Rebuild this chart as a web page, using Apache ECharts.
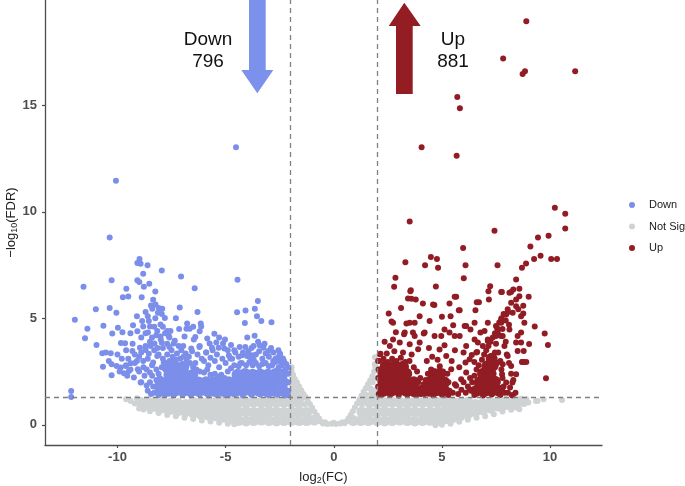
<!DOCTYPE html>
<html>
<head>
    <meta charset="utf-8" />
    <title>Volcano plot</title>
    <script src="https://cdn.jsdelivr.net/npm/echarts@6/dist/echarts.min.js"></script>
    <style>
        html, body { margin: 0; padding: 0; background: #fff; }
        #chart { width: 685px; height: 486px; }
    </style>
</head>
<body>
    <div id="chart"></div>
    <script>
        // tick labels
        var xTicks = [-10, -5, 0, 5, 10];
        var yTicks = [0, 5, 10, 15];
        // thresholds: |log2FC| > 2, FDR < 0.05
        var fcCut = 2;
        var fdrCut = 1.3;
        var downCount = 796;
        var upCount = 881;

        // not significant, dense body of the cloud (drawn with larger dots)
        var greyCore = [
            [-4.4,0.2],[-4.05,0.18],[-3.7,0.2],[-3.35,0.22],[-3.0,0.2],[-2.65,0.18],[-2.3,0.2],[-1.95,0.21],
            [-4.4,0.6],[-4.05,0.62],[-3.7,0.58],[-3.35,0.6],[-3.0,0.62],[-2.65,0.6],[-2.3,0.58],[-1.95,0.6],
            [-4.4,1.05],[-4.05,1.04],[-3.7,1.06],[-3.35,1.05],[-3.0,1.04],[-2.65,1.06],[-2.3,1.05],[-1.95,1.05],
            [-1.6,0.2],[-1.25,0.2],[-0.9,0.22],[-1.6,0.62],[-1.25,0.58],[-1.65,1.05],[-1.85,1.5],
            [2.0,0.2],[2.35,0.18],[2.7,0.2],[3.05,0.22],[3.4,0.2],[3.75,0.18],[4.1,0.2],[4.45,0.21],
            [2.0,0.6],[2.35,0.62],[2.7,0.58],[3.05,0.6],[3.4,0.62],[3.75,0.6],[4.1,0.58],[4.45,0.6],
            [2.0,1.05],[2.35,1.04],[2.7,1.06],[3.05,1.05],[3.4,1.04],[3.75,1.06],[4.1,1.05],[4.45,1.05],
            [0.9,0.2],[1.25,0.2],[1.6,0.2],[1.3,0.6],[1.65,0.6],[1.65,1.05],[1.85,1.5],
            [-4.75,0.3],[-4.75,0.7],[-4.75,1.05],[-5.1,0.35],[-5.1,0.7],[-5.1,1.05],
            [-5.45,0.42],[-5.45,0.75],[-5.45,1.05],[-5.8,0.45],[-5.8,0.78],[-5.8,1.05],
            [-6.15,0.5],[-6.15,0.8],[-6.15,1.05],[-6.5,0.56],[-6.5,0.85],[-6.5,1.06],
            [-6.85,0.62],[-6.85,0.95],[-7.2,0.66],[-7.2,1.0],[-7.55,0.72],[-7.55,1.02],
            [-7.9,0.8],[-7.9,1.05],[-8.25,0.86],[-8.25,1.06],[-8.6,0.93],[-8.6,1.08],[-8.95,1.06],
            [4.8,0.22],[4.8,0.6],[4.8,1.05],[5.15,0.28],[5.15,0.65],[5.15,1.05],
            [5.5,0.34],[5.5,0.7],[5.5,1.05],[5.85,0.43],[5.85,0.78],[5.85,1.05],
            [6.2,0.52],[6.2,0.85],[6.2,1.06],[6.55,0.62],[6.55,0.95],[6.9,0.7],[6.9,1.0],
            [7.25,0.78],[7.25,1.05],[7.6,0.88],[7.6,1.06],[7.95,0.95],[7.95,1.08],[8.3,1.02],[8.65,1.1]
        ];
        // not significant, edges and stragglers
        var greyPts = [
            [-0.5,0.06],[-0.3,0.04],[-0.1,0.05],[0.1,0.04],[0.3,0.06],[0.5,0.07],[-0.4,0.12],[0.0,0.1],
            [0.4,0.12],[-0.6,0.15],[0.6,0.16],
            [-0.68,0.3],[-0.78,0.45],[-0.9,0.62],[-1.0,0.8],[-1.1,0.96],[-1.2,1.12],[-1.3,1.3],[-1.4,1.45],
            [-1.5,1.62],[-1.6,1.8],[-1.7,1.98],[-1.8,2.15],[-1.88,2.35],[-1.95,2.55],[-1.92,2.1],[-1.87,1.8],
            [-1.95,1.9],[-1.75,1.7],[-1.55,1.35],[-1.45,1.25],[-1.35,0.95],[-1.95,2.7],
            [0.68,0.3],[0.78,0.46],[0.88,0.64],[0.98,0.82],[1.08,1.0],[1.18,1.18],[1.28,1.36],[1.38,1.55],
            [1.48,1.72],[1.58,1.9],[1.68,2.08],[1.78,2.28],[1.86,2.5],[1.92,2.72],[1.9,2.84],[1.9,3.17],
            [1.8,2.0],[1.7,1.7],[1.9,2.2],[1.5,1.4],[1.4,1.2],[1.3,0.95],
            [-4.6,0.02],[-4.9,0.05],[-5.3,0.1],[-5.7,0.15],[-6.1,0.2],[-6.5,0.27],[-6.9,0.33],[-7.3,0.4],
            [-7.7,0.46],[-8.1,0.55],[-8.5,0.63],[-8.8,0.72],[-9.0,0.77],[-9.39,1.12],[-8.7,1.02],[-9.2,1.0],
            [-9.6,1.2],[-9.1,1.25],
            [4.7,-0.02],[5.0,0.0],[5.4,0.05],[5.8,0.14],[6.2,0.24],[6.6,0.33],[7.0,0.4],[7.4,0.5],
            [7.8,0.62],[8.2,0.7],[8.43,0.81],[8.58,0.73],[8.81,0.97],[9.0,1.05],[9.35,1.12],[9.42,1.12],
            [9.7,1.2],[10.55,1.16],[8.9,1.2],[8.1,1.05],[7.6,0.8]
        ];

        // down-regulated, solid part of the cluster (drawn with larger dots)
        var downCore = [
            [-8.0,1.6],[-7.65,1.6],[-7.3,1.62],[-6.95,1.6],[-6.6,1.58],[-6.25,1.6],[-5.9,1.62],[-5.55,1.6],
            [-5.2,1.6],[-4.85,1.58],[-4.5,1.6],[-4.15,1.62],[-3.8,1.6],[-3.45,1.6],[-3.1,1.58],[-2.75,1.6],[-2.35,1.6],
            [-7.65,2.0],[-7.3,2.0],[-6.95,2.02],[-6.6,2.0],[-6.25,1.98],[-5.9,2.0],[-5.55,2.0],[-5.2,1.98],
            [-4.85,2.0],[-4.5,2.02],[-4.15,2.0],[-3.8,2.0],[-3.45,1.98],[-3.1,2.0],[-2.75,2.02],[-2.35,2.0],
            [-7.6,2.35],[-7.25,2.38],[-6.9,2.35],[-6.55,2.33],[-4.45,2.35],[-4.1,2.38],[-3.75,2.35],
            [-3.4,2.36],[-3.05,2.35],[-2.7,2.38],[-2.4,2.35],
            [-7.3,2.7],[-6.95,2.72],[-8.0,2.0],[-7.7,2.7]
        ];
        // down-regulated, single genes
        var downPts = [
            [-4.52,13.03],[-10.07,11.46],[-10.36,8.79],
            [-11.57,6.48],[-11.97,4.93],[-11.39,4.51],[-11.5,4.06],[-10.97,3.75],[-11.0,5.42],[-10.36,5.49],
            [-10.27,6.79],[-10.05,5.26],[-10.65,4.65],[-10.24,4.29],[-9.98,4.56],[-9.77,4.35],[-9.84,3.84],
            [-9.65,3.83],[-10.7,3.36],[-10.54,3.39],[-10.31,3.36],[-10.67,2.73],[-10.27,2.84],[-10.27,2.33],
            [-12.14,1.59],[-12.14,1.31],
            [-8.98,7.79],[-9.08,7.6],[-8.93,7.56],[-8.61,7.49],[-8.81,7.09],[-9.08,6.79],[-8.99,6.71],
            [-8.53,6.62],[-8.78,6.48],[-9.59,6.39],[-9.75,5.99],[-9.5,6.03],[-8.88,5.99],[-8.25,6.26],
            [-7.95,7.24],[-7.06,6.96],[-6.43,6.41],[-4.45,6.81],
            [-8.35,5.87],[-8.24,5.65],[-8.09,5.49],[-8.39,5.45],[-7.93,5.45],[-8.13,5.26],[-7.81,5.01],
            [-7.12,5.51],[-4.47,5.29],[-4.08,5.37],[-3.65,5.45],[-3.51,5.81],[-3.55,5.1],[-3.35,4.87],
            [-2.88,4.81],[-4.11,4.78],[-3.66,4.18],
            [-8.86,4.87],[-8.55,4.87],[-8.81,4.61],[-8.5,4.61],[-9.28,4.67],[-9.08,4.39],[-8.59,4.33],
            [-8.16,4.4],[-8.01,4.71],[-7.7,4.4],[-7.63,4.17],[-8.01,4.14],[-6.78,4.76],[-6.81,4.51],
            [-6.66,4.51],[-6.15,4.76],[-6.13,4.61],[-6.2,4.39],[-6.4,4.12],[-6.47,4.01],[-5.52,4.28],
            [-5.03,4.01],[-5.12,3.82],[-5.43,3.86],[-5.74,3.82],[-7.4,3.82],[-7.17,3.7],[-6.96,3.7],
            [-6.59,3.58],[-6.21,3.65],[-5.9,3.39],[-5.63,3.62],[-5.32,3.62],[-5.06,3.58],[-4.09,3.65],
            [-3.71,3.7],[-3.43,3.73],[-3.25,3.62],[-3.02,3.47],[-2.79,3.39],[-2.56,3.5],[-2.48,3.34],
            [-2.35,3.11],[-2.09,2.69],[-4.55,3.39],[-4.24,3.26],[-4.78,3.11],[-4.32,2.89],[-4.01,3.23],
            [-3.78,3.26],
            [-10.04,2.76],[-9.85,2.69],[-9.62,2.76],[-9.39,2.89],[-9.7,2.42],[-9.47,2.53],[-9.24,2.22],
            [-9.06,2.61],[-8.93,1.98],[-8.81,3.0],[-8.96,3.62],[-9.31,3.47],[-8.7,3.51],[-8.47,3.7],
            [-8.29,3.82],[-8.55,3.34],[-8.16,3.23],[-8.35,2.92],[-8.5,2.45],[-8.16,1.75],[-7.86,2.92],
            [-9.2,2.9],[-9.0,3.2],[-8.8,2.7],[-8.6,3.1],[-8.4,2.8],[-8.9,3.4],[-8.7,3.7],[-8.3,3.5],
            [-8.1,3.3],[-7.9,3.6],[-7.7,3.8],[-7.5,3.5],[-8.0,4.0],[-7.8,4.3],[-8.2,4.2],[-7.6,4.1],
            [-9.1,3.0],[-9.4,2.6],[-9.6,2.8],[-9.5,3.1],[-8.5,3.9],[-8.9,4.1],[-9.3,3.8],
            [-6.4,2.9],[-6.1,3.1],[-5.8,2.8],[-5.5,3.0],[-5.3,2.7],[-5.0,2.9],[-4.7,3.1],[-4.4,3.2],
            [-4.2,3.4],[-3.9,3.2],[-3.6,3.3],[-3.3,3.1],[-3.0,3.2],[-2.7,3.1],[-2.5,3.3],[-2.3,3.0],
            [-5.9,3.4],[-5.6,3.5],[-6.2,3.7],[-4.9,3.5],[-3.5,3.9],[-3.8,3.6],[-2.9,3.6],
            [-8.3,1.5],[-8.35,1.8],[-8.2,2.1],[-8.1,2.4],[-7.95,2.7],[-7.8,2.9],[-7.6,3.0],[-7.45,3.2],
            [-7.3,3.05],[-7.1,3.1],[-6.95,3.2],[-6.8,3.0],[-6.65,2.9],[-6.5,2.7],[-6.35,2.6],[-6.2,2.5],
            [-6.0,2.45],[-5.85,2.6],[-5.7,2.35],[-5.5,2.4],[-5.35,2.25],[-5.2,2.35],[-5.05,2.2],[-4.9,2.5],
            [-4.75,2.65],[-4.6,2.8],[-4.4,2.75],[-4.25,2.9],[-4.05,2.8],[-3.9,2.95],[-3.75,2.8],[-3.6,2.9],
            [-3.45,2.75],[-3.3,2.85],[-3.15,2.9],[-3.0,2.75],[-2.85,2.8],[-2.7,2.95],[-2.55,2.7],[-2.4,2.8],
            [-2.25,2.6],[-2.1,2.4],[-2.1,2.0],[-2.1,1.6],[-2.12,1.4],
            [-8.1,1.4],[-7.8,1.42],[-7.4,1.38],[-7.0,1.41],[-6.6,1.39],[-6.2,1.42],[-5.8,1.38],[-5.4,1.41],
            [-5.0,1.39],[-4.6,1.42],[-4.2,1.38],[-3.8,1.4],[-3.4,1.42],[-3.0,1.39],[-2.6,1.41],[-2.25,1.38],
            [-8.6,1.6],[-8.5,2.0],[-8.75,2.3],[-8.9,2.0],[-9.0,2.5],
            [-8.2,2.6],[-8.4,2.3],[-8.65,2.6],[-7.9,3.1],[-7.7,3.3],[-7.45,3.0],[-7.25,3.35],[-7.05,3.5],
            [-6.85,3.35],[-7.6,3.65],[-7.35,3.95],[-7.95,3.85],[-8.15,3.6],[-8.4,4.1],[-8.7,4.3],[-8.3,4.6],
            [-7.9,4.6],[-7.55,4.4],[-8.6,5.1],[-8.25,5.0],[-7.95,5.2],[-8.45,5.6],[-8.7,5.3],[-9.1,5.1],
            [-9.4,4.3],[-9.6,3.5],[-9.2,3.3],[-9.8,3.1],[-10.0,3.3],[-10.4,3.0],[-9.9,2.5],[-9.55,2.3],
            [-7.6,2.05],[-8.05,2.2],[-8.45,1.45],[-8.65,1.85],[-6.7,3.2],[-6.55,3.45],[-6.3,3.3],[-6.0,3.0],
            [-5.7,3.15],[-5.4,3.3],[-5.15,3.1],[-4.85,3.25],[-4.6,3.5],[-4.35,3.65],[-3.95,3.45],[-3.7,3.05],
            [-3.45,3.45],[-3.15,3.35],[-2.6,3.15],[-2.45,2.95],[-2.2,2.85],[-2.8,3.0],[-3.2,3.8],[-4.0,4.1],
            [-4.75,3.75],[-5.3,4.1],[-5.85,4.05],[-6.9,4.15],[-7.15,4.5],[-6.5,4.6],[-7.3,5.0],[-6.3,5.3]
        ];

        // up-regulated, solid part of the clusters (drawn with larger dots)
        var upCore = [
            [2.3,1.6],[2.65,1.6],[3.0,1.62],[3.35,1.6],[3.7,1.58],[4.05,1.6],[4.4,1.6],[4.75,1.62],[5.1,1.6],
            [6.6,1.6],[6.95,1.58],[7.3,1.6],[7.65,1.6],
            [2.3,2.0],[2.65,2.02],[3.0,2.0],[3.35,1.98],[3.7,2.0],[4.45,2.0],[4.8,2.02],[5.1,2.0],
            [6.75,2.0],[7.1,2.0],[7.45,2.02],
            [2.3,2.4],[2.65,2.38],[3.0,2.4],[3.35,2.4],[4.6,2.38],[4.9,2.4],[6.9,2.4],[7.25,2.4],
            [2.4,2.75],[2.8,2.75],[3.2,2.72],[7.1,2.75],[7.35,2.78],[7.3,3.1]
        ];
        // up-regulated, single genes
        var upPts = [
            [8.9,18.95],[7.83,17.2],[8.84,16.6],[8.73,16.47],[11.16,16.6],[5.71,15.4],[5.83,14.87],
            [4.06,13.03],[5.68,12.64],[3.51,9.55],[10.22,10.19],[10.7,9.91],[7.43,9.11],[10.7,9.22],
            [9.44,8.79],[9.93,8.88],[5.98,8.3],[9.09,8.37],
            [3.31,7.63],[4.22,7.49],[4.49,7.88],[4.77,7.79],[4.82,7.37],[2.85,6.9],[2.79,6.48],[6.09,7.49],
            [6.01,6.88],[7.57,7.49],[9.26,7.79],[9.56,7.94],[10.05,7.79],[10.32,7.79],[8.7,7.37],[8.89,7.57],
            [8.43,6.82],[4.72,6.49],[3.56,6.32],[3.43,5.93],[2.54,5.23],[3.11,5.49],[3.79,5.88],[4.12,5.7],
            [4.65,5.62],[5.0,5.07],[5.59,6.01],[5.82,5.38],[6.71,5.76],[7.23,6.51],[7.17,5.88],[7.77,6.23],
            [8.12,6.2],[8.3,6.35],[8.58,6.39],[9.01,6.01],[8.76,5.59],[9.75,4.29],[9.9,3.75],[9.81,2.19],
            [9.29,4.61],[9.03,3.79],[8.78,2.95],[8.26,1.98],[8.24,1.39],[2.67,4.85],[2.87,4.35],[2.16,3.34],
            [5.52,4.68],[6.05,4.64],[6.32,4.48],[6.51,4.79],[6.51,4.01],[6.78,4.33],[6.89,3.7],[7.12,3.93],
            [6.38,3.28],[6.63,3.42],[6.09,2.92],[5.89,2.14],[6.12,2.45],[3.74,4.79],[3.36,4.76],[3.97,5.1],
            [4.43,4.87],[5.12,4.48],[5.4,5.1],[4.66,4.17],[4.16,4.29],[3.25,4.25],[3.74,4.17],[5.12,3.73],
            [5.59,4.17],[7.5,4.64],[7.74,4.95],[7.89,5.18],[8.04,5.42],[8.2,5.73],[8.43,5.88],[8.53,5.42],
            [8.66,5.1],[8.81,4.79],[8.5,4.17],[8.66,3.86],[8.5,3.47],[7.89,3.7],[7.74,4.17],[7.5,4.17],
            [8.04,3.23],[7.81,2.84],[7.78,2.37],[8.7,2.95],[8.9,2.95],
            [3.54,6.27],[3.59,5.92],[4.59,5.65],[5.35,5.7],[5.66,6.01],[5.78,5.38],[6.55,5.38],[6.61,5.76],
            [7.15,6.27],[7.74,6.23],[8.2,6.23],[8.58,6.04],[8.43,5.57],[8.27,5.26],[8.76,5.23],[7.97,5.18],
            [7.74,4.79],[7.58,4.4],[7.81,4.17],[8.12,4.48],[8.66,4.33],[8.43,3.86],[8.78,3.47],[8.73,2.95],
            [8.43,2.37],[8.2,2.76],[7.97,1.98],[8.27,1.39],[7.12,4.79],[6.97,4.4],[7.12,4.01],[6.59,3.39],
            [6.28,3.08],[5.66,1.83],[6.28,1.67],[5.43,2.61],[5.2,3.23],[4.89,3.54],[4.97,4.17],
            [5.35,4.33],[5.82,4.17],[6.12,4.64],[6.12,3.7],[6.66,3.86],[3.51,4.79],[3.28,4.33],[2.74,4.79],
            [2.74,4.01],[3.05,3.86],[3.66,4.33],[3.97,3.86],[4.2,4.33],[3.51,3.78],[2.59,3.7],[2.13,3.31],
            [2.05,3.0],
            [2.1,3.0],[2.3,3.1],[2.5,2.95],[2.7,3.1],[2.9,3.0],[3.1,3.15],[3.3,2.95],[3.5,3.0],[3.7,2.7],
            [3.85,2.5],[4.0,2.2],[4.15,1.9],[4.25,2.1],[4.35,2.4],[4.5,2.6],[4.7,2.5],[4.9,2.75],[5.05,2.5],
            [5.25,2.4],[5.3,2.0],[5.35,1.6],[5.3,1.4],[2.08,1.45],[2.05,1.8],[2.06,2.2],[2.07,2.6],[4.0,1.45],
            [4.2,1.45],[4.1,1.65],[3.9,2.0],
            [2.2,1.4],[2.6,1.41],[3.0,1.38],[3.4,1.42],[3.8,1.4],[4.6,1.39],[5.0,1.41],[6.5,1.4],[6.9,1.38],
            [7.3,1.42],[7.7,1.4],
            [5.5,1.5],[5.6,1.9],[5.75,1.45],[5.9,1.65],[6.0,2.0],[6.1,1.5],[6.2,1.8],
            [6.35,1.6],[6.4,2.0],[6.5,2.3],[6.6,2.6],[6.7,2.8],[6.85,3.05],[6.95,3.3],[7.05,3.5],[7.15,3.7],
            [7.25,3.9],[7.35,4.1],[7.45,4.3],[7.55,4.55],[7.65,4.8],[7.75,5.0],[7.85,5.2],[7.5,3.8],[7.6,3.4],
            [7.7,3.0],[7.75,2.6],[7.8,2.2],[7.85,1.8],[7.9,1.5],[7.55,2.9],[7.45,3.4],[7.65,4.2],[7.8,4.5],
            [7.95,4.9],[8.05,5.3],[8.1,4.7],[7.95,3.9],[8.0,3.3],[8.1,2.9],[8.2,2.4],[8.15,1.75],[8.3,2.1],
            [8.05,1.5],[8.4,1.5],
            [2.45,3.35],[2.8,3.45],[3.2,3.4],[3.6,3.3],[4.3,3.0],[4.55,3.2],[4.8,3.05],[5.45,3.0],
            [2.35,3.9],[3.9,3.55],[4.4,3.6],[5.6,3.5],[6.0,3.4],[5.8,2.7],[6.3,2.2],[6.5,2.95]
        ];

        var blue = '#7b8eea';
        var red = '#921c24';
        var grey = '#d0d3d4';
        var axisColor = '#4d4d4d';
        var tickFont = "'Liberation Sans Narrow', 'Liberation Sans', Arial, sans-serif";
        var textFont = "'Liberation Sans', Arial, sans-serif";

        var chart = echarts.init(document.getElementById('chart'), null, { renderer: 'canvas' });

        var option = {
            backgroundColor: '#fff',
            animation: false,
            grid: { left: 45, right: 83, top: 0, bottom: 41, outerBoundsMode: 'none', containLabel: false },
            legend: {
                orient: 'vertical',
                left: 629,
                top: 198,
                icon: 'circle',
                itemWidth: 24,
                itemHeight: 6,
                itemGap: 7.5,
                padding: 0,
                selectedMode: false,
                data: ['Down', 'Not Sig', 'Up'],
                textStyle: { fontSize: 11, color: '#1a1a1a', lineHeight: 14, fontFamily: textFont }
            },
            xAxis: {
                type: 'value',
                min: -13.35,
                max: 12.4,
                splitLine: { show: false },
                axisLine: { show: true, onZero: false, lineStyle: { color: axisColor, width: 1.3 } },
                axisTick: { show: true, length: 3, customValues: xTicks, lineStyle: { color: axisColor, width: 1.2 } },
                axisLabel: {
                    customValues: xTicks, margin: 6, color: axisColor, fontSize: 13,
                    fontWeight: 'bold', fontFamily: tickFont
                },
                name: 'log{sub|2}(FC)',
                nameLocation: 'middle',
                nameMoveOverlap: false,
                nameGap: 24,
                nameTextStyle: {
                    fontSize: 13, color: '#222', fontFamily: textFont,
                    rich: { sub: { fontSize: 9, color: '#222', fontFamily: textFont, padding: [7, 0, 0, 0] } }
                }
            },
            yAxis: {
                type: 'value',
                min: -0.95,
                max: 19.95,
                splitLine: { show: false },
                axisLine: { show: true, onZero: false, lineStyle: { color: axisColor, width: 1.3 } },
                axisTick: { show: true, length: 3, customValues: yTicks, lineStyle: { color: axisColor, width: 1.2 } },
                axisLabel: {
                    customValues: yTicks, margin: 8, color: axisColor, fontSize: 13,
                    fontWeight: 'bold', fontFamily: tickFont
                },
                name: '\u2212log{sub|10}(FDR)',
                nameLocation: 'middle',
                nameMoveOverlap: false,
                nameGap: 26,
                nameTextStyle: {
                    fontSize: 13, color: '#222', fontFamily: textFont,
                    rich: { sub: { fontSize: 9, color: '#222', fontFamily: textFont, padding: [7, 0, 0, 0] } }
                }
            },
            series: [
                { name: 'Not Sig', type: 'scatter', data: greyCore, symbolSize: 11, itemStyle: { color: grey, opacity: 1 }, silent: true, z: 1 },
                { name: 'Not Sig', type: 'scatter', data: greyPts, symbolSize: 6, itemStyle: { color: grey, opacity: 1 }, silent: true, z: 1 },
                { name: 'Down', type: 'scatter', data: downCore, symbolSize: 12, itemStyle: { color: blue, opacity: 1 }, silent: true, z: 2 },
                { name: 'Down', type: 'scatter', data: downPts, symbolSize: 6, itemStyle: { color: blue, opacity: 1 }, silent: true, z: 2 },
                { name: 'Up', type: 'scatter', data: upCore, symbolSize: 12, itemStyle: { color: red, opacity: 1 }, silent: true, z: 3 },
                {
                    name: 'Up', type: 'scatter', data: upPts, symbolSize: 6, itemStyle: { color: red, opacity: 1 }, silent: true, z: 3,
                    markLine: {
                        silent: true,
                        symbol: 'none',
                        label: { show: false },
                        lineStyle: { color: '#808080', type: [5, 4], width: 1.3 },
                        data: [{ xAxis: -fcCut }, { xAxis: fcCut }, { yAxis: fdrCut }]
                    }
                }
            ]
        };
        chart.setOption(option);

        // annotation arrows and counts, placed in pixels over the plot
        chart.setOption({
            graphic: [
                {
                    type: 'polygon', z: 10,
                    shape: { points: [[249, -2], [265.7, -2], [265.7, 70], [273.3, 70], [257.3, 93.3], [241.3, 70], [249, 70]] },
                    style: { fill: '#7b91ec' }
                },
                {
                    type: 'polygon', z: 10,
                    shape: { points: [[404.3, 2.7], [420.7, 26], [412.7, 26], [412.7, 94], [396, 94], [396, 26], [388.7, 26]] },
                    style: { fill: '#931d23' }
                },
                {
                    type: 'text', z: 10, x: 208, y: 51,
                    style: {
                        text: 'Down\n' + downCount, fill: '#111', fontSize: 19, lineHeight: 22,
                        fontFamily: textFont, align: 'center', verticalAlign: 'middle'
                    }
                },
                {
                    type: 'text', z: 10, x: 453, y: 51,
                    style: {
                        text: 'Up\n' + upCount, fill: '#111', fontSize: 19, lineHeight: 22,
                        fontFamily: textFont, align: 'center', verticalAlign: 'middle'
                    }
                }
            ]
        });
    </script>
</body>
</html>
